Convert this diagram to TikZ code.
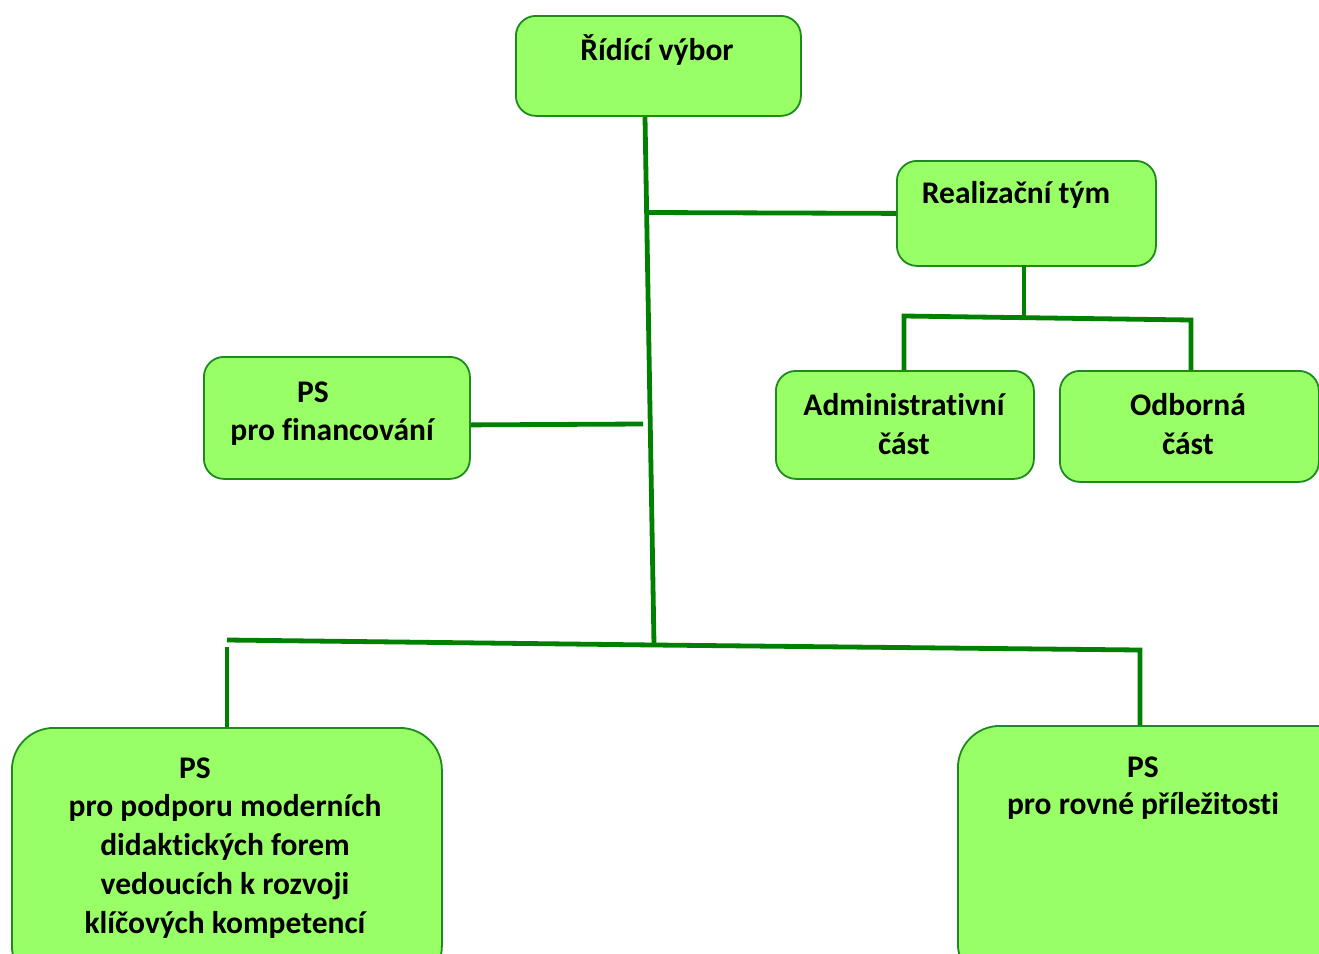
\documentclass[tikz,border=0pt]{standalone}
\usepackage{fontspec}
\setmainfont{Carlito}[Ligatures=NoCommon]
\usetikzlibrary{calc}
\definecolor{boxfill}{HTML}{99FF66}
\definecolor{boxline}{HTML}{1E8A1E}
\definecolor{linegreen}{HTML}{008000}
\tikzset{
  box/.style={draw=boxline, fill=boxfill, line width=1.8pt, rounded corners=20pt, anchor=north west, inner sep=0pt},
  bigbox/.style={box, rounded corners=42pt},
  conn/.style={draw=linegreen, line width=4.8pt},
  lbl/.style={font=\fontsize{31.5}{39}\selectfont\bfseries, align=center, inner sep=0pt}
}
\begin{document}
\begin{tikzpicture}[x=1pt,y=-1pt]
\useasboundingbox (0,0) rectangle (1319,953);
\clip (0,0) rectangle (1319,953);
% boxes
\node[box, minimum width=285pt, minimum height=100pt] (rv) at (515,15) {};
\node[box, minimum width=259pt, minimum height=105pt] (rt) at (896,160) {};
\node[box, minimum width=266pt, minimum height=122pt] (pf) at (203,356) {};
\node[box, minimum width=258pt, minimum height=108pt] (ad) at (775,370) {};
\node[box, minimum width=259pt, minimum height=111pt] (od) at (1059,370) {};
\node[bigbox, minimum width=430pt, minimum height=260pt] (pk) at (11,727) {};
\node[bigbox, minimum width=400pt, minimum height=260pt] (pr) at (957,725) {};
% texts
\node[lbl] (trv) at (657,50) {Řídící výbor};
\node[lbl] (trt) at (1016,195) {Realizační tým};
\node[lbl] (tpf1) at (313,392) {PS};
\node[lbl] (tpf2) at (332,432) {pro financování};
\node[lbl] (tad) at (904,424) {Administrativní\\část};
\node[lbl] (tod) at (1188,424) {Odborná\\část};
\node[lbl] (tpk1) at (195,768) {PS};
\node[lbl] (tpk2) at (225,866) {pro podporu moderních\\didaktických forem\\vedoucích k rozvoji\\klíčových kompetencí};
\node[lbl] (tpr1) at (1143,767) {PS};
\node[lbl] (tpr2) at (1143,806) {pro rovné příležitosti};
% junction coordinates
\coordinate (mtop) at (645,117);
\coordinate (mbot) at (654,645);
\coordinate (j1) at (647,212.5);
\coordinate (j2) at (643,424);
\coordinate (rtb) at (1024,265);
\coordinate (rj) at (1024,318);
\coordinate (ra) at (904,316);
\coordinate (ro) at (1191,320);
\coordinate (bl) at (227,640);
\coordinate (br) at (1140,650);
\coordinate (blv) at (227,647);
% connectors
\draw[conn] (mtop) -- (mbot);
\draw[conn] (rt.west) -- (j1);
\draw[conn] ($(pf.east)+(0,7)$) -- (j2);
\draw[conn] (rtb) -- (rj);
\draw[conn] (ra |- ad.north) -- (ra) -- (ro) -- (ro |- od.north);
\draw[conn] (bl) -- (mbot) -- (br) -- (br |- pr.north);
\draw[conn] (blv) -- (blv |- pk.north);
\end{tikzpicture}
\end{document}
